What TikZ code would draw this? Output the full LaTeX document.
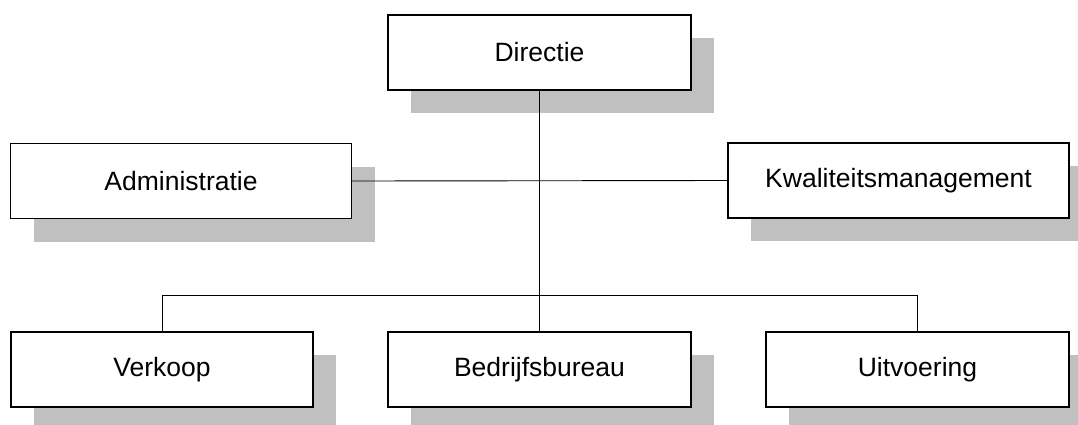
\documentclass[tikz,border=0pt]{standalone}
\usepackage{fontspec}
\setmainfont{Liberation Sans}
\usetikzlibrary{shadows}
\definecolor{shgray}{RGB}{192,192,192}
\tikzset{
  unit/.style={draw=black, line width=1.4pt, fill=white, rectangle,
    minimum height=75pt, inner sep=0pt,
    general shadow={fill=shgray, shadow xshift=23pt, shadow yshift=-23pt},
    font=\fontsize{26.5}{30}\selectfont},
  narrow/.style={unit, minimum width=303pt},
  wide/.style={unit, minimum width=341pt},
  link/.style={draw=black, line width=0.9pt}
}
\begin{document}
\begin{tikzpicture}[x=1pt, y=-1pt]
  \useasboundingbox (0,0) rectangle (1078,424);
  \clip (0,0) rectangle (1078,424);
  \fill[white] (0,0) rectangle (1078,424);

  % departments of the organisation
  \coordinate (bar) at (540,295);
  \node[narrow] (dir) at (539.5,52.5) {Directie};
  \node[wide]   (adm) at (181,181)    {Administratie};
  \node[wide]   (kwa) at (898.5,180.5) {Kwaliteitsmanagement};
  \node[narrow, minimum width=302pt] (ver) at (162,369.5) {Verkoop};
  \node[narrow] (bed) at (539.5,369.5) {Bedrijfsbureau};
  \node[narrow] (uit) at (917.5,369.5) {Uitvoering};

  % reporting lines
  \draw[link] (dir.south) -- (bed.north);
  \draw[link] (adm.east) -- (kwa.west);
  \draw[link] (ver.north) -- (ver.north |- bar) -- (uit.north |- bar) -- (uit.north);
\end{tikzpicture}
\end{document}
